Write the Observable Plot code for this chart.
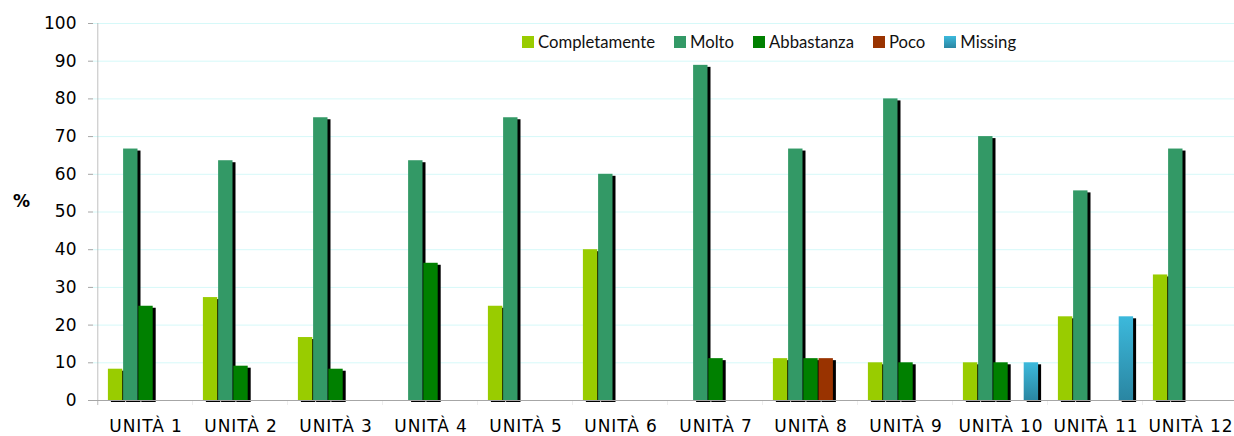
<!DOCTYPE html>
<html><head><meta charset="utf-8">
<script src="https://cdn.jsdelivr.net/npm/d3@7"></script>
<script src="https://cdn.jsdelivr.net/npm/@observablehq/plot@0.6"></script>
<style>
body{margin:0;background:#fff;}
#wrap{position:relative;width:1234px;height:436px;overflow:hidden;}
#legend{position:absolute;left:522px;top:32px;display:flex;gap:19px;font-family:Lato, sans-serif;font-size:16.7px;color:#111;line-height:20px;}
.item{display:flex;align-items:center;}
.sw{width:12px;height:12px;margin-right:4px;}
</style></head><body><div id="wrap"><div id="legend"></div></div>
<script>
const units = ["UNITÀ 1","UNITÀ 2","UNITÀ 3","UNITÀ 4","UNITÀ 5","UNITÀ 6","UNITÀ 7","UNITÀ 8","UNITÀ 9","UNITÀ 10","UNITÀ 11","UNITÀ 12"];
const series = ["Completamente","Molto","Abbastanza","Poco","Missing"];
const completamente = [8.3, 27.3, 16.7, 0, 25, 40, 0, 11.1, 10, 10, 22.2, 33.3];
const molto =         [66.7, 63.6, 75, 63.6, 75, 60, 88.9, 66.7, 80, 70, 55.6, 66.7];
const abbastanza =    [25, 9.1, 8.3, 36.4, 0, 0, 11.1, 11.1, 10, 10, 0, 0];
const poco =          [0, 0, 0, 0, 0, 0, 0, 11.1, 0, 0, 0, 0];
const missing =       [0, 0, 0, 0, 0, 0, 0, 0, 0, 10, 22.2, 0];
const yTicks = [0,10,20,30,40,50,60,70,80,90,100];
const yLabel = "%";

const values = [completamente, molto, abbastanza, poco, missing];
const colors = ["#99cc00","#339966","#008000","#993300","#35aed0"];
const gridColor = "#d6f9f9";
const axisColor = "#a6a6a6";

const W=1234, H=436, ML=93, MR=-8.6, MT=23, MB=36;
const bw = (W-ML-MR)/units.length;
const slot = 15.2;
const pad = (bw - slot*series.length)/2;

const rows = [];
units.forEach((u,i)=>series.forEach((s,j)=>{const v=values[j][i]; if(v>0) rows.push({unit:u, series:s, value:v});}));

const marks = [];
marks.push(Plot.ruleY(yTicks.filter(d=>d>0), {y: d=>d, stroke: gridColor}));
series.forEach((s,j)=>{
  marks.push(Plot.barY(rows.filter(r=>r.series===s), {x:"unit", y:"value", fill:"#000", dx:3, dy:2,
    insetLeft: pad+slot*j, insetRight: bw-pad-slot*(j+1)}));
});
marks.push(Plot.ruleY([0], {y: d=>d, stroke: axisColor}));
series.forEach((s,j)=>{
  marks.push(Plot.barY(rows.filter(r=>r.series===s), {x:"unit", y:"value", fill:colors[j],
    insetLeft: pad+slot*j, insetRight: bw-pad-slot*(j+1)}));
});
// x boundary ticks and y axis line
marks.push(Plot.barY(units, {x: d=>d, y1: -1.33, y2: 0, fill: axisColor, insetLeft: -0.5, insetRight: bw-0.5}));
marks.push(Plot.barY([units[0]], {x: d=>d, y1: -1.33, y2: 100, fill: axisColor, insetLeft: -0.5, insetRight: bw-1}));
marks.push(Plot.text([yLabel], {frameAnchor:"left", text: d=>d, dx:-72, dy:-10, textAnchor:"middle", fontWeight:"bold", fontSize:17, fill:"#000"}));

const svg = Plot.plot({
  width: W, height: H, marginLeft: ML, marginRight: MR, marginTop: MT, marginBottom: MB,
  style: {fontFamily: "'DejaVu Sans', sans-serif", fontSize: "17px", color: "#000", background: "#fff", overflow: "hidden"},
  x: {domain: units, padding: 0, tickSize: 0, tickPadding: 19, label: null},
  y: {domain: [0,100], ticks: yTicks, tickSize: 5, tickPadding: 12, label: null, tickFormat: d=>String(d)},
  marks
});

const s = d3.select(svg);
s.selectAll('g[aria-label^="y-axis"]').each(function(){
  const g = d3.select(this);
  if (g.attr("stroke")) g.attr("stroke", axisColor);
  g.selectAll("line, path").attr("stroke", axisColor);
});
s.selectAll('g[aria-label^="x-axis"] text').style("letter-spacing", "0.9px");
const defs = s.insert("defs", ":first-child");
const lg = defs.append("linearGradient").attr("id","missGrad").attr("x1",0).attr("y1",0).attr("x2",0).attr("y2",1);
lg.append("stop").attr("offset","0%").attr("stop-color","#3cb9dc");
lg.append("stop").attr("offset","100%").attr("stop-color","#2a86a2");
s.selectAll('[fill="#35aed0"]').attr("fill","url(#missGrad)");

const wrap = document.getElementById("wrap");
wrap.insertBefore(svg, wrap.firstChild);

const legend = d3.select("#legend");
series.forEach((name,j)=>{
  const it = legend.append("div").attr("class","item");
  it.append("div").attr("class","sw").style("background", j===4 ? "linear-gradient(#3cb9dc,#2a86a2)" : colors[j]);
  it.append("span").text(name);
});
</script></body></html>
